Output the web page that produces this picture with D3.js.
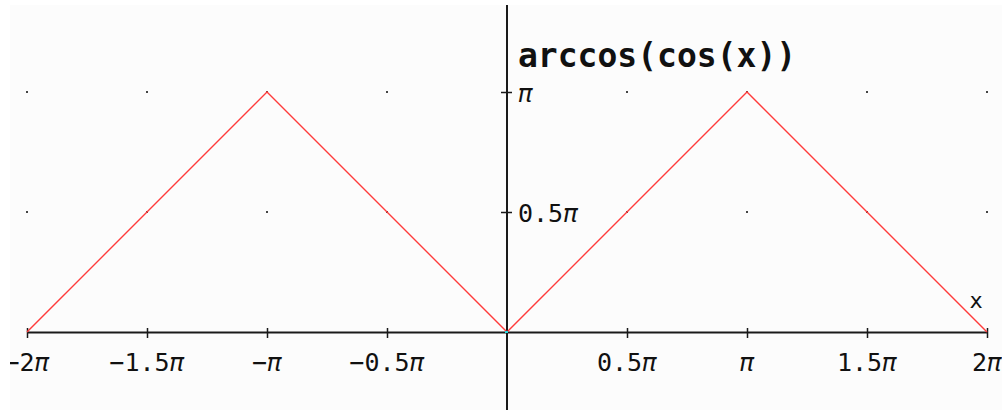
<!DOCTYPE html>
<html>
<head>
<meta charset="utf-8">
<script src="https://cdn.jsdelivr.net/npm/d3@7"></script>
<style>
  html, body { margin: 0; padding: 0; background: #ffffff; }
  svg { display: block; }
  .tick-label { font-family: "DejaVu Sans Mono", monospace; font-size: 25px; fill: #111; }
  .pi { font-style: italic; }
</style>
</head>
<body>
<svg id="chart" width="1002" height="410"></svg>
<script>
// Curve vertices, x in multiples of pi, y = arccos(cos(x)) in multiples of pi
const curveX = [-2, -1, 0, 1, 2];
const curveY = [0, 1, 0, 1, 0];

// Axis ticks (multiples of pi) and their labels
const xTickValues = [-2, -1.5, -1, -0.5, 0.5, 1, 1.5, 2];
const xTickLabels = ["\u22122", "\u22121.5", "\u2212", "\u22120.5", "0.5", "", "1.5", "2"];
const yTickValues = [0.5, 1];
const yTickLabels = ["0.5", ""];
const gridXValues = [-2, -1.5, -1, -0.5, 0, 0.5, 1, 1.5, 2];

const title = "arccos(cos(x))";
const xAxisName = "x";

const PI = Math.PI;
const svg = d3.select("#chart");
const W = 1002, H = 410;

const x = d3.scaleLinear().domain([-2 * PI, 2 * PI]).range([27, 987]);
const y = d3.scaleLinear().domain([0, PI]).range([332, 92]);

svg.append("defs").append("clipPath").attr("id", "plotClip")
  .append("rect").attr("x", 10).attr("y", 5).attr("width", W - 10).attr("height", H - 5);

svg.append("rect").attr("width", W).attr("height", H).attr("fill", "#ffffff");
const g = svg.append("g").attr("clip-path", "url(#plotClip)");
g.append("rect").attr("x", 10).attr("y", 5).attr("width", W - 10).attr("height", H - 5).attr("fill", "#fcfcfc");

// Grid dots
const dots = [];
gridXValues.forEach(gx => yTickValues.forEach(gy => dots.push([gx, gy])));
g.append("g").selectAll("rect").data(dots).join("rect")
  .attr("x", d => Math.round(x(d[0] * PI)) - 1)
  .attr("y", d => Math.round(y(d[1] * PI)) - 1)
  .attr("width", 2).attr("height", 2)
  .attr("fill", "#444");

// x axis
const xAxis = d3.axisBottom(x)
  .tickValues(xTickValues.map(v => v * PI))
  .tickSizeInner(6).tickSizeOuter(0).tickFormat("");
const xg = g.append("g").attr("transform", `translate(0,${y(0)})`).call(xAxis);
xg.select(".domain").attr("stroke", "#1a1a1a").attr("stroke-width", 2);
xg.selectAll(".tick line").attr("stroke", "#1a1a1a").attr("stroke-width", 1.5).attr("y1", -4).attr("y2", 6);

// y axis
const yAxis = d3.axisLeft(y)
  .tickValues(yTickValues.map(v => v * PI))
  .tickSizeInner(6).tickSizeOuter(0).tickFormat("");
const yg = g.append("g").attr("transform", `translate(${x(0)},0)`).call(yAxis);
yg.select(".domain").remove();
yg.selectAll(".tick line").attr("stroke", "#1a1a1a").attr("stroke-width", 1.5).attr("x1", -6).attr("x2", 5);
g.append("line")
  .attr("x1", x(0)).attr("x2", x(0)).attr("y1", 5).attr("y2", H)
  .attr("stroke", "#1a1a1a").attr("stroke-width", 2);

// x tick labels
const xl = g.append("g").selectAll("text").data(xTickValues).join("text")
  .attr("class", "tick-label")
  .attr("x", d => x(d * PI))
  .attr("y", 371)
  .attr("text-anchor", "middle");
xl.append("tspan").text((d, i) => xTickLabels[i]);
xl.append("tspan").attr("class", "pi").text("\u03c0");

// y tick labels
const yl = g.append("g").selectAll("text").data(yTickValues).join("text")
  .attr("class", "tick-label")
  .attr("x", x(0) + 11)
  .attr("y", d => y(d * PI) + 10);
yl.append("tspan").text((d, i) => yTickLabels[i]);
yl.append("tspan").attr("class", "pi").text("\u03c0");

// curve
const line = d3.line().x(d => x(d[0] * PI)).y(d => y(d[1] * PI));
g.append("path")
  .datum(curveX.map((v, i) => [v, curveY[i]]))
  .attr("d", line)
  .attr("fill", "none")
  .attr("stroke", "#ff3b3b")
  .attr("stroke-width", 1.4);

// origin marker
g.append("rect").attr("x", x(0) - 2).attr("y", y(0) - 1).attr("width", 3).attr("height", 2).attr("fill", "#22d8e0");

// function title and axis name
g.append("text")
  .attr("x", 518).attr("y", 67)
  .attr("font-family", "DejaVu Sans Mono, monospace")
  .attr("font-weight", "bold")
  .attr("font-size", 33)
  .attr("fill", "#111")
  .text(title);

g.append("text")
  .attr("x", 976).attr("y", 308)
  .attr("text-anchor", "middle")
  .attr("font-family", "DejaVu Sans Mono, monospace")
  .attr("font-size", 22)
  .attr("fill", "#111")
  .text(xAxisName);
</script>
</body>
</html>
